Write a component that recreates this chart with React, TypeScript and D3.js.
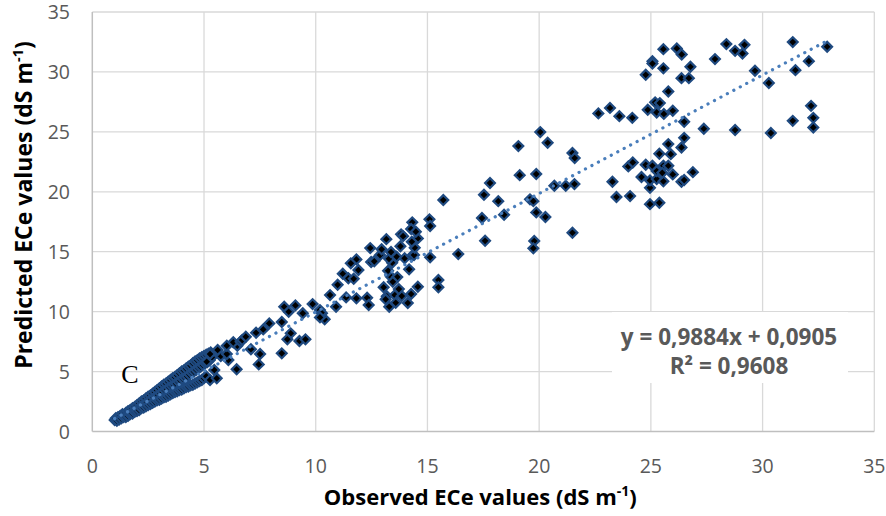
import React from 'react';
import * as d3 from 'd3';

// axis ticks
const xTicks = [0, 5, 10, 15, 20, 25, 30, 35];
const yTicks = [0, 5, 10, 15, 20, 25, 30, 35];

// trendline from the chart
const slope = 0.9884;
const intercept = 0.0905;
const trendRange = [1.0, 32.9];
const eqLine1 = 'y = 0,9884x + 0,0905';
const eqLine2 = 'R² = 0,9608';

// dense low-salinity cluster (observed, predicted)
const lowPoints: [number, number][] = [
  [1.0, 0.95], [1.05, 1.1], [1.1, 0.9], [1.15, 1.2], [1.2, 1.0], [1.25, 1.3], [1.3, 1.1], [1.35, 1.45],
  [1.4, 1.2], [1.45, 1.35], [1.5, 1.55], [1.5, 1.2], [1.55, 1.4], [1.6, 1.7], [1.6, 1.3], [1.65, 1.5],
  [1.7, 1.8], [1.7, 1.45], [1.75, 1.6], [1.8, 1.95], [1.8, 1.5], [1.85, 1.7], [1.9, 2.05], [1.9, 1.65],
  [1.95, 1.85], [2.0, 2.2], [2.0, 1.7], [2.05, 1.95], [2.1, 2.35], [2.1, 1.8], [2.15, 2.1], [2.2, 2.5],
  [2.2, 1.95], [2.25, 2.2], [2.3, 2.6], [2.3, 2.0], [2.35, 2.35], [2.4, 2.75], [2.4, 2.1], [2.45, 2.45],
  [2.5, 2.9], [2.5, 2.2], [2.55, 2.6], [2.6, 3.0], [2.6, 2.3], [2.65, 2.7], [2.7, 3.15], [2.7, 2.4],
  [2.75, 2.85], [2.8, 3.3], [2.8, 2.5], [2.85, 2.95], [2.9, 3.45], [2.9, 2.6], [2.95, 3.05], [3.0, 3.6],
  [3.0, 2.65], [3.05, 3.2], [3.1, 3.75], [3.1, 2.75], [3.15, 3.3], [3.2, 3.9], [3.2, 2.85], [3.25, 3.45],
  [3.3, 4.0], [3.3, 2.9], [3.35, 3.55], [3.4, 4.15], [3.4, 3.0], [3.45, 3.7], [3.5, 4.3], [3.5, 3.1],
  [3.55, 3.8], [3.6, 4.45], [3.6, 3.2], [3.65, 3.9], [3.7, 4.55], [3.7, 3.3], [3.75, 4.0], [3.8, 4.7],
  [3.8, 3.35], [3.85, 4.15], [3.9, 4.85], [3.9, 3.45], [3.95, 4.25], [4.0, 5.0], [4.0, 3.5], [4.05, 4.4],
  [4.1, 5.1], [4.1, 3.6], [4.15, 4.5], [4.2, 5.25], [4.2, 3.7], [4.25, 4.6], [4.3, 5.4], [4.3, 3.75],
  [4.35, 4.75], [4.4, 5.5], [4.4, 3.85], [4.45, 4.9], [4.5, 5.7], [4.5, 3.9], [4.55, 5.0], [4.6, 5.85],
  [4.6, 4.0], [4.65, 5.15], [4.7, 5.95], [4.7, 4.1], [4.75, 5.3], [4.8, 6.1], [4.8, 4.2], [4.85, 5.4],
  [4.9, 6.2], [4.9, 4.3], [4.95, 5.55], [5.0, 6.3], [5.0, 4.45], [5.05, 5.7], [5.1, 6.4], [5.1, 4.6],
  [5.15, 5.8], [5.2, 6.5], [5.25, 5.95], [5.3, 6.6], [5.35, 6.2],
];

// mid range 5 - 16 dS/m
const midPoints: [number, number][] = [
  [5.27, 4.3], [5.57, 4.44], [5.46, 5.13], [5.12, 5.82], [6.46, 5.19], [7.45, 5.6], [6.09, 5.96],
  [5.27, 6.46], [5.75, 6.3], [6.02, 6.46], [5.61, 6.8], [7.51, 6.46], [8.48, 6.52], [7.1, 6.86],
  [6.02, 7.16], [6.49, 7.16], [6.31, 7.44], [6.64, 7.49], [6.71, 7.63], [6.87, 7.91], [7.33, 8.24],
  [7.65, 8.52], [8.88, 8.19], [8.73, 7.69], [9.27, 7.55], [9.54, 7.69], [7.92, 9.02], [8.48, 9.13],
  [8.59, 10.41], [9.09, 10.52], [8.79, 9.99], [9.42, 9.86], [9.86, 10.63], [10.19, 10.13], [10.28, 9.86],
  [10.4, 9.36], [10.19, 9.52], [10.91, 10.41], [10.64, 11.38], [11.36, 11.19], [11.82, 11.11],
  [12.3, 11.16], [13.18, 11.28], [13.54, 11.38], [13.85, 11.3], [14.27, 11.47], [13.13, 11.03],
  [12.37, 10.55], [13.58, 10.74], [14.12, 10.72], [13.29, 10.41], [10.98, 12.24], [13.04, 12.03],
  [14.57, 12.08], [13.72, 11.88], [13.37, 12.91], [13.65, 12.88], [13.45, 12.49], [11.21, 13.16],
  [11.46, 12.78], [11.7, 12.74], [11.91, 13.47], [13.42, 14.08], [14.18, 13.53], [13.24, 13.41],
  [11.82, 14.36], [11.57, 14.03], [12.48, 14.14], [12.62, 14.2], [12.88, 14.72], [13.28, 14.41],
  [13.62, 14.58], [13.98, 14.45], [14.3, 14.64], [14.4, 14.72], [12.44, 15.3], [12.95, 15.2],
  [13.37, 14.97], [13.79, 15.45], [14.43, 15.33], [13.16, 16.05], [13.82, 16.45], [13.91, 16.3],
  [14.57, 16.11], [14.3, 15.83], [14.32, 17.45], [14.27, 16.89], [14.48, 16.67], [15.09, 17.7],
  [15.12, 17.14], [15.49, 12.64], [15.49, 12.03], [15.12, 14.53], [16.38, 14.8], [15.71, 19.31],
];

// high range 17 - 33 dS/m
const highPoints: [number, number][] = [
  [17.58, 15.91], [17.44, 17.81], [17.53, 19.75], [17.8, 20.73], [18.17, 19.22], [18.43, 18.08],
  [19.07, 23.81], [19.13, 21.39], [19.87, 21.48], [19.59, 19.37], [19.74, 19.22], [19.87, 18.28],
  [20.28, 17.89], [19.78, 15.89], [19.74, 15.28], [20.05, 24.98], [20.38, 24.09], [20.68, 20.5],
  [21.19, 20.5], [21.58, 20.64], [21.49, 23.23], [21.59, 22.81], [21.49, 16.58], [22.65, 26.54],
  [23.17, 27.0], [23.59, 26.31], [24.17, 26.17], [23.28, 20.84], [23.46, 19.56], [24.07, 19.64],
  [23.99, 22.12], [24.19, 22.45], [24.96, 18.97], [25.38, 19.08], [24.96, 20.33], [24.58, 21.23],
  [24.96, 20.95], [25.26, 21.06], [25.56, 20.87], [26.37, 20.84], [26.49, 20.98], [26.88, 21.64],
  [24.77, 22.25], [25.07, 22.17], [25.26, 21.73], [25.56, 22.17], [25.78, 22.17], [25.51, 21.58],
  [25.98, 21.45], [25.38, 23.17], [25.89, 23.14], [25.78, 23.98], [26.37, 23.7], [26.49, 24.5],
  [26.49, 25.84], [25.19, 27.46], [25.4, 27.4], [24.86, 26.84], [25.26, 26.62], [25.58, 26.5],
  [25.98, 26.76], [25.78, 28.37], [24.77, 29.76], [26.37, 29.48], [26.7, 29.48], [25.56, 30.3],
  [26.77, 30.43], [25.07, 30.9], [25.07, 30.7], [25.56, 31.9], [26.16, 31.96], [26.38, 31.46],
  [27.87, 31.07], [28.38, 32.32], [28.77, 31.76], [29.1, 31.54], [29.19, 32.26], [29.66, 30.1],
  [30.28, 29.07], [31.35, 32.49], [31.47, 30.15], [32.07, 30.9], [32.89, 32.1], [27.37, 25.26],
  [28.77, 25.15], [30.37, 24.9], [31.35, 25.92], [32.17, 27.17], [32.27, 26.17], [32.27, 25.37],
];

const allPoints = [...lowPoints, ...midPoints, ...highPoints];

const W = 886;
const H = 516;
const margin = { left: 92.3, right: 886 - 874.3, top: 12, bottom: 516 - 431.5 };
const font = "'Open Sans', sans-serif";
const tickColor = '#595959';

export default function App() {
  const x = d3.scaleLinear().domain([0, 35]).range([margin.left, W - margin.right]);
  const y = d3.scaleLinear().domain([0, 35]).range([H - margin.bottom, margin.top]);
  const diamond = d3.symbol().type(d3.symbolSquare).size(48)();
  const trend = d3
    .line<number>()
    .x((v) => x(v))
    .y((v) => y(slope * v + intercept))(trendRange);

  const midX = (x(0) + x(35)) / 2;

  return (
    <svg width={W} height={H} style={{ position: 'absolute', left: 0, top: 0, background: '#fff' }}>
      {/* grid */}
      {xTicks.slice(1).map((t) => (
        <line key={'gx' + t} x1={x(t)} x2={x(t)} y1={y(0)} y2={y(35)} stroke="#d9d9d9" strokeWidth={1.3} />
      ))}
      {yTicks.slice(1).map((t) => (
        <line key={'gy' + t} x1={x(0)} x2={x(35)} y1={y(t)} y2={y(t)} stroke="#d9d9d9" strokeWidth={1.3} />
      ))}
      {/* axis lines */}
      <line x1={x(0)} x2={x(0)} y1={y(0)} y2={y(35)} stroke="#bfbfbf" strokeWidth={1.5} />
      <line x1={x(0)} x2={x(35)} y1={y(0)} y2={y(0)} stroke="#bfbfbf" strokeWidth={1.5} />

      {/* tick labels */}
      {xTicks.map((t) => (
        <text key={'tx' + t} x={x(t)} y={y(0) + 41} textAnchor="middle" fontFamily={font} fontSize={19.5} fill={tickColor}>
          {t}
        </text>
      ))}
      {yTicks.map((t) => (
        <text key={'ty' + t} x={70} y={y(t) + 7} textAnchor="end" fontFamily={font} fontSize={19.5} fill={tickColor}>
          {t}
        </text>
      ))}

      {/* equation box */}
      <rect x={612} y={312} width={236} height={71} fill="#fff" />
      <text x={729} y={345} textAnchor="middle" fontFamily={font} fontWeight="bold" fontSize={22.5} fill={tickColor}>
        {eqLine1}
      </text>
      <text x={729} y={374} textAnchor="middle" fontFamily={font} fontWeight="bold" fontSize={22.5} fill={tickColor}>
        {eqLine2}
      </text>

      {/* markers */}
      {allPoints.map((p, i) => (
        <path
          key={i}
          d={diamond}
          transform={`translate(${x(p[0])},${y(p[1])}) rotate(45)`}
          fill="#000"
          stroke="#1f4a80"
          strokeWidth={2.2}
        />
      ))}

      {/* trendline */}
      <path d={trend ?? ''} fill="none" stroke="#4a7ebb" strokeWidth={3.2} strokeLinecap="round" strokeDasharray="0.1 7.2" />

      {/* panel letter */}
      <text x={130} y={383} textAnchor="middle" fontFamily="'Liberation Serif', 'DejaVu Serif', serif" fontSize={26} fill="#000">
        C
      </text>

      {/* axis titles */}
      <text x={midX - 3} y={505} textAnchor="middle" fontFamily={font} fontWeight="bold" fontSize={22} fill="#000">
        Observed ECe values (dS m
        <tspan fontSize={14} dy={-9}>-1</tspan>
        <tspan dy={9}>)</tspan>
      </text>
      <text
        transform="translate(32,205) rotate(-90)"
        textAnchor="middle"
        fontFamily={font}
        fontWeight="bold"
        fontSize={23}
        fill="#000"
      >
        Predicted ECe values (dS m
        <tspan fontSize={14.5} dy={-9}>-1</tspan>
        <tspan dy={9}>)</tspan>
      </text>
    </svg>
  );
}
